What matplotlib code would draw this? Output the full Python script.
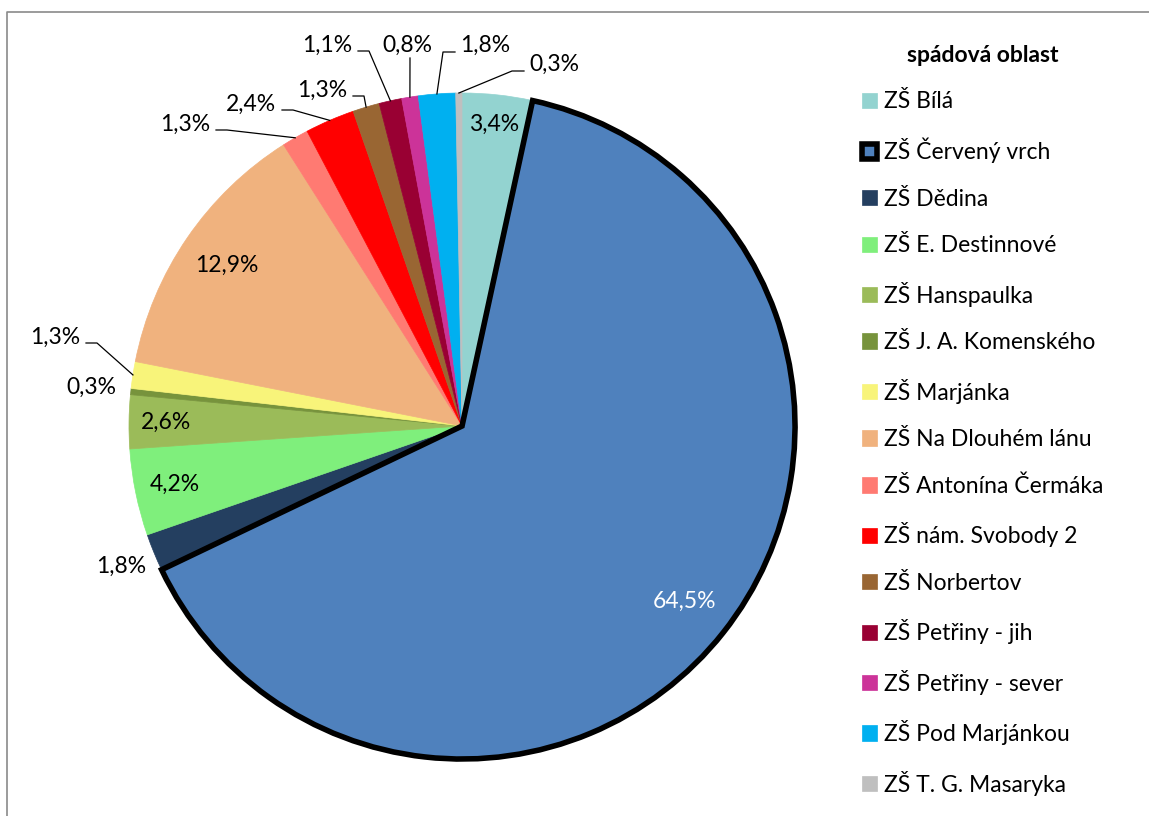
import numpy as np
import matplotlib
matplotlib.use("Agg")
import matplotlib.pyplot as plt


W, H = 1149, 816

schools = [
    "ZŠ Bílá", "ZŠ Červený vrch", "ZŠ Dědina", "ZŠ E. Destinnové", "ZŠ Hanspaulka",
    "ZŠ J. A. Komenského", "ZŠ Marjánka", "ZŠ Na Dlouhém lánu", "ZŠ Antonína Čermáka",
    "ZŠ nám. Svobody 2", "ZŠ Norbertov", "ZŠ Petřiny - jih", "ZŠ Petřiny - sever",
    "ZŠ Pod Marjánkou", "ZŠ T. G. Masaryka",
]
shares = [3.4, 64.5, 1.8, 4.2, 2.6, 0.3, 1.3, 12.9, 1.3, 2.4, 1.3, 1.1, 0.8, 1.8, 0.3]
colors = [
    "#93D3D0", "#4F81BD", "#243F60", "#7FEF7C", "#9BBB59", "#77933C", "#F8F47A",
    "#F0B27E", "#FF7A72", "#FF0000", "#996633", "#990033", "#CC3399", "#00B0F0", "#BFBFBF",
]
legend_title = "spádová oblast"

# label layout (pixels): inside labels by radius fraction, outside ones by text centre
inside = {0: 0.91, 1: 0.85, 3: 0.88, 4: 0.89, 7: 0.855}
outside = {
    2: ((121, 566), None),
    5: ((91, 387), None),
    6: ((55, 337), "right"),
    8: ((185, 124), "right"),
    9: ((251, 104), "right"),
    10: ((322, 90), "right"),
    11: ((327, 45), "right"),
    12: ((407, 45), "below"),
    13: ((485, 45), "left"),
    14: ((554, 64), "left"),
}

CX, CY, R = 462, 426, 333


def px(x, y):
    return x, H - y


plt.rcParams["font.family"] = ["Lato", "DejaVu Sans"]
FS = 16.5

fig = plt.figure(figsize=(W / 100, H / 100), dpi=100)
ax = fig.add_axes([0, 0, 1, 1])

explode = [0.033 if s == "ZŠ Červený vrch" else 0 for s in schools]
wedges, _ = ax.pie(shares, colors=colors, explode=explode, startangle=90,
                   counterclock=False, center=px(CX, CY), radius=R,
                   wedgeprops=dict(linewidth=0.5))
for w, c in zip(wedges, colors):
    w.set_edgecolor(c)
wedges[1].set_edgecolor("black")
wedges[1].set_linewidth(4)
wedges[1].set_zorder(3)

ax.set_xlim(0, W)
ax.set_ylim(0, H)
ax.set_aspect("equal")
ax.axis("off")

# chart frame (only top and left edges are visible in the crop)
ax.plot([7, 7, W], [0, H - 12, H - 12], color="#8A8A8A", lw=1.2, zorder=0)

pct = [f"{v:.1f}".replace(".", ",") + "%" for v in shares]

for i, w in enumerate(wedges):
    th = np.radians((w.theta1 + w.theta2) / 2)
    cx, cy = w.center
    if i in inside:
        r = inside[i] * R
        ax.text(cx + r * np.cos(th), cy + r * np.sin(th), pct[i], fontsize=FS,
                ha="center", va="center", color="white" if i == 1 else "black", zorder=5)
        continue
    (tx, ty), side = outside[i]
    ax.text(*px(tx, ty), pct[i], fontsize=FS, ha="center", va="center", zorder=5)
    if side is None:
        continue
    ex, ey = cx + R * np.cos(th), cy + R * np.sin(th)
    if side == "right":
        xs = [tx + 31, tx + 42]
        ys = [ty + 6, ty + 6]
    elif side == "left":
        xs = [tx - 30, tx - 42]
        ys = [ty + 7, ty + 7]
    else:
        xs = [tx + 3]
        ys = [ty + 13]
    lx = xs + [ex]
    ly = [H - y for y in ys] + [ey]
    ax.plot(lx, ly, color="black", lw=0.9, zorder=4)

leg = ax.legend(wedges, schools, title=legend_title, loc="upper left",
                bbox_to_anchor=(862 / W, 1 - 45 / H), bbox_transform=fig.transFigure,
                frameon=False, fontsize=FS, title_fontproperties=dict(size=FS, weight="bold"),
                handlelength=0.65, handleheight=0.65, handletextpad=0.3,
                labelspacing=1.11, borderpad=0, borderaxespad=0)

fig.savefig("out.png", dpi=100)
